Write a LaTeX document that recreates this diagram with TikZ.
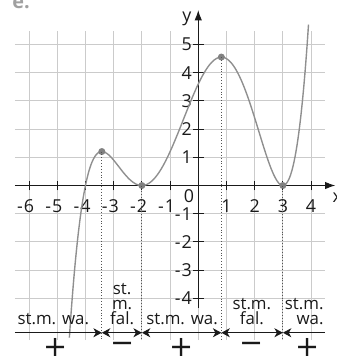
\documentclass[tikz,border=0pt]{standalone}
\usepackage{fontspec}
\setmainfont{Open Sans}
\newfontfamily\signfont{DejaVu Sans}
\usepackage{xcolor}
\usepackage{tikz}
\usetikzlibrary{arrows.meta,positioning}

\definecolor{gridgray}{HTML}{CBCBCB}
\definecolor{curvegray}{HTML}{8F8F8F}
\definecolor{inkblack}{HTML}{1A1A1A}
\definecolor{taskgray}{HTML}{A0A0A0}

\begin{document}
\begin{tikzpicture}[
    gridline/.style={gridgray, line width=1pt},
    axis/.style={inkblack, line width=1pt, -{Latex[length=3.6mm,width=2.6mm]}},
    tick/.style={inkblack, line width=1pt},
    lab/.style={text=inkblack, inner sep=0pt, font=\fontsize{18}{16}\selectfont},
    graph/.style={curvegray, line width=1.4pt},
    extr/.style={circle, fill=curvegray!90!black, inner sep=0pt, minimum size=2.5mm},
    drop/.style={inkblack!75, dotted, line width=0.9pt},
    arr/.style={inkblack, line width=1pt},
    mono/.style={text=inkblack, align=center, anchor=south, inner sep=0pt, font=\fontsize{17}{15}\selectfont},
    sign/.style={text=inkblack, inner sep=0pt, font=\signfont\fontsize{29}{29}\selectfont}
  ]
    \useasboundingbox (-7.03,-6.045) rectangle (4.885,6.578);
    % grid
    \foreach \x in {-6,...,4} \draw[gridline] (\x,-5.48) -- (\x,5.48);
    \foreach \y in {-4,...,5} \draw[gridline] (-6.5,\y) -- (4.5,\y);
    % axes
    \coordinate (xstart) at (-6.5,0);
    \coordinate (xend) at (4.86,0);
    \coordinate (ystart) at (0,-4.35);
    \coordinate (yend) at (0,6.22);
    \draw[axis] (xstart) -- (xend);
    \draw[axis] (ystart) -- (yend);
    \foreach \x in {-6,...,-1,1,2,3,4} \draw[tick] (\x,-0.17) -- (\x,0.17);
    \foreach \y in {-4,...,-1,1,2,3,4,5} \draw[tick] (-0.2,\y) -- (0.2,\y);
    \foreach \t in {1,...,6} \node[lab] (xm\t) at (-\t,-0.72) {\llap{-\kern1pt}\t};
    \foreach \x in {1,...,4} \node[lab] (xp\x) at (\x,-0.72) {\x};
    \foreach \t in {1,...,4} \node[lab, anchor=east] (ym\t) at (-0.22,-\t) {-\kern1pt\t};
    \foreach \y in {1,...,5} \node[lab, anchor=east] (yp\y) at (-0.22,\y) {\y};
    \node[lab] (orig) at (-0.33,-0.37) {0};
    \node[lab] (ylab) at (-0.4,5.9) {y};
    \node[lab] (xlab) at (4.93,-0.42) {x};
    \node[anchor=base west, inner sep=0pt, text=taskgray, font=\bfseries\fontsize{20}{20}\selectfont] (task) at (-6.6,6.26) {e.};
    % graph of f
    \draw[graph, domain=-4.57:3.91, samples=160, smooth]
      plot (\x, {0.025*(\x+2)*(\x+2)*(\x-3)*(\x-3)*(\x+4)});
    \node[extr] (pA) at (-3.419,1.205) {};
    \node[extr] (pB) at (-2,0) {};
    \node[extr] (pC) at (0.819,4.555) {};
    \node[extr] (pD) at (3,0) {};
    % monotonicity
    \coordinate (bL) at (-6.5,-5.22);
    \coordinate (bR) at (4.5,-5.22);
    \coordinate (bA) at (-3.419,-5.22);
    \coordinate (bB) at (-2,-5.22);
    \coordinate (bC) at (0.819,-5.22);
    \coordinate (bD) at (3,-5.22);
    \coordinate (eA) at (-3.419,-5.45);
    \coordinate (eB) at (-2,-5.45);
    \coordinate (eC) at (0.819,-5.45);
    \coordinate (eD) at (3,-5.45);
    \draw[drop] (pA.center) -- (eA);
    \draw[drop] (pB.center) -- (eB);
    \draw[drop] (pC.center) -- (eC);
    \draw[drop] (pD.center) -- (eD);
    \draw[arr, -{Stealth[length=3mm,width=3.2mm,inset=0.9mm]}] (bL) -- (bA);
    \draw[arr, {Stealth[length=3mm,width=3.2mm,inset=0.9mm]}-{Stealth[length=3mm,width=3.2mm,inset=0.9mm]}] (bA) -- (bB);
    \draw[arr, {Stealth[length=3mm,width=3.2mm,inset=0.9mm]}-{Stealth[length=3mm,width=3.2mm,inset=0.9mm]}] (bB) -- (bC);
    \draw[arr, {Stealth[length=3mm,width=3.2mm,inset=0.9mm]}-{Stealth[length=3mm,width=3.2mm,inset=0.9mm]}] (bC) -- (bD);
    \draw[arr, {Stealth[length=3mm,width=3.2mm,inset=0.9mm]}-] (bD) -- (bR);
    \node[mono] (m1) at (-5.14,-4.95) {st.m. wa.};
    \node[mono] (m2) at (-2.70,-4.95) {st.\\m.\\fal.};
    \node[mono] (m3) at (-0.575,-4.95) {st.m. wa.};
    \node[mono] (m4) at (1.90,-4.95) {st.m.\\fal.};
    \node[mono, anchor=south east, align=right] (m5) at (4.45,-4.95) {st.m.\\wa.};
    \node[sign] (s1) at (-5.07,-5.74) {+};
    \node[sign] (s2) at (-2.70,-5.74) {−};
    \node[sign] (s3) at (-0.59,-5.74) {+};
    \node[sign] (s4) at (1.90,-5.74) {−};
    \node[sign] (s5) at (3.88,-5.74) {+};
  \end{tikzpicture}
\end{document}
